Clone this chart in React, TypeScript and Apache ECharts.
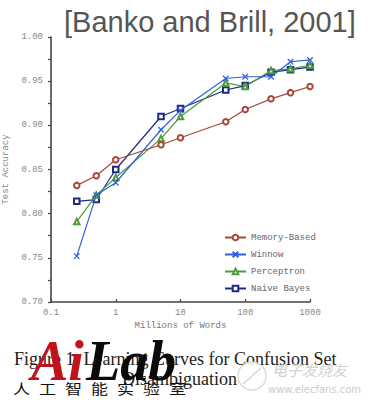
import React, { useEffect, useRef } from "react";
import * as echarts from "echarts";

// Training set size (millions of words)
const words = [0.25, 0.5, 1, 5, 10, 50, 100, 250, 500, 1000];

// Test accuracy per learner
const memoryBased = [0.832, 0.843, 0.861, 0.878, 0.886, 0.904, 0.918, 0.93, 0.937, 0.944];
const winnow = [0.752, 0.821, 0.835, 0.895, 0.917, 0.953, 0.955, 0.955, 0.972, 0.974];
const perceptron = [0.791, 0.821, 0.841, 0.885, 0.91, 0.948, 0.944, 0.962, 0.964, 0.968];
const naiveBayes = [0.814, 0.816, 0.85, 0.91, 0.919, 0.94, 0.945, 0.96, 0.963, 0.966];

const seriesNames = ["Memory-Based", "Winnow", "Perceptron", "Naive Bayes"];
const seriesColors = ["#a8463c", "#2f5fdc", "#4e9a3c", "#1c2a86"];

const titleText = "[Banko and Brill, 2001]";
const captionLine1 = "Figure 1. Learning Curves for Confusion Set";
const captionLine2 = "Disambiguation";
const labChars = ["人", "工", "智", "能", "实", "验", "室"];

const MONO = "'Liberation Mono', 'DejaVu Sans Mono', monospace";
const SERIF = "'Liberation Serif', 'Times New Roman', serif";
const crossSymbol = "path://M0,0L10,10M10,0L0,10";

function pairs(values: number[]) {
  return words.map((w, i) => [w, values[i]]);
}

export default function App() {
  const ref = useRef<HTMLDivElement>(null);

  useEffect(() => {
    if (!ref.current) return;
    const chart = echarts.init(ref.current, undefined, { renderer: "svg" });

    const datasets = [memoryBased, winnow, perceptron, naiveBayes];
    const symbols = ["emptyCircle", crossSymbol, "emptyTriangle", "emptyRect"];

    const series = datasets.map((vals, i) => ({
      name: seriesNames[i],
      type: "line",
      data: pairs(vals),
      symbol: symbols[i],
      symbolSize: 5.5,
      showAllSymbol: true,
      lineStyle: { color: seriesColors[i], width: 1.2 },
      itemStyle:
        i === 1
          ? { color: "rgba(0,0,0,0)", borderColor: seriesColors[i], borderWidth: 1.2 }
          : { color: seriesColors[i], borderColor: seriesColors[i], borderWidth: 1.1 },
      z: 10 - i,
    }));

    const labGraphics = labChars.map((ch, i) => ({
      type: "text",
      x: 13 + i * 26,
      y: 388,
      scaleY: 0.8,
      z: 30,
      style: {
        text: ch,
        fill: "#111",
        align: "left",
        verticalAlign: "middle",
        font: "17px 'Noto Sans CJK SC', sans-serif",
      },
    }));

    chart.setOption({
      animation: false,
      backgroundColor: "#ffffff",
      grid: {
        left: 51,
        right: 66,
        top: 37,
        bottom: 102,
        containLabel: false,
        outerBoundsMode: "none",
      },
      legend: {
        orient: "vertical",
        left: 219,
        top: 228,
        itemWidth: 21,
        itemHeight: 7,
        itemGap: 8,
        data: seriesNames,
        textStyle: { fontFamily: MONO, fontSize: 9, color: "#666" },
      },
      xAxis: {
        type: "log",
        logBase: 10,
        min: 0.1,
        max: 1000,
        name: "Millions of Words",
        nameLocation: "middle",
        nameGap: 18,
        nameTextStyle: { fontFamily: MONO, fontSize: 9, color: "#777" },
        axisLine: { lineStyle: { color: "#444", width: 1.6 } },
        axisTick: { show: true, inside: true, length: 3, lineStyle: { color: "#444", width: 1.2 } },
        minorTick: { show: false },
        splitLine: { show: false },
        axisLabel: {
          fontFamily: MONO,
          fontSize: 9,
          color: "#888",
          margin: 6,
          formatter: (v: number) => String(v),
        },
      },
      yAxis: {
        type: "value",
        min: 0.7,
        max: 1.0,
        interval: 0.025,
        name: "Test Accuracy",
        nameLocation: "middle",
        nameGap: 33,
        nameTextStyle: { fontFamily: MONO, fontSize: 9, color: "#888" },
        axisLine: { show: true, lineStyle: { color: "#444", width: 1.6 } },
        axisTick: { show: true, inside: false, length: 3, lineStyle: { color: "#444", width: 1.2 } },
        splitLine: { show: false },
        axisLabel: {
          fontFamily: MONO,
          fontSize: 9,
          color: "#888",
          margin: 8,
          formatter: (v: number) => {
            const k = Math.round(v * 1000);
            return k % 50 === 0 ? (k / 1000).toFixed(2) : "";
          },
        },
      },
      series,
      graphic: [
        {
          type: "text",
          left: 64,
          top: 7,
          style: {
            text: titleText,
            fill: "#555",
            font: "29px 'Liberation Sans', Arial, sans-serif",
          },
        },
        {
          type: "text",
          left: 14,
          top: 350,
          z: 5,
          style: { text: captionLine1, fill: "#222", font: "18px " + SERIF },
        },
        {
          type: "text",
          left: 122,
          top: 370,
          z: 5,
          style: { text: captionLine2, fill: "#222", font: "18px " + SERIF },
        },
        // elecfans watermark
        {
          type: "circle",
          shape: { cx: 252, cy: 376, r: 14 },
          z: 6,
          style: { fill: "rgba(255,255,255,0.85)", stroke: "#d6d6d6", lineWidth: 1.2 },
        },
        {
          type: "polyline",
          shape: { points: [[243, 384], [252, 376], [261, 368]] },
          z: 7,
          style: { stroke: "#d0d0d0", lineWidth: 1.2, fill: null },
        },
        {
          type: "text",
          left: 272,
          top: 362,
          z: 6,
          style: {
            text: "电子发烧友",
            fill: "#d2d2d2",
            font: "italic 15px 'Noto Sans CJK SC', sans-serif",
          },
        },
        {
          type: "text",
          left: 268,
          top: 384,
          z: 6,
          style: {
            text: "www.elecfans.com",
            fill: "#cccccc",
            font: "10px 'DejaVu Sans', sans-serif",
          },
        },
        // AiLab logo
        {
          type: "text",
          left: 31,
          top: 333,
          z: 30,
          style: {
            text: "Ai",
            fill: "#c0141c",
            lineHeight: 44,
            font: "italic bold 56px " + SERIF,
          },
        },
        {
          type: "text",
          left: 86,
          top: 333,
          z: 30,
          style: {
            text: "Lab",
            fill: "#0a0a0a",
            lineHeight: 44,
            font: "italic bold 56px " + SERIF,
          },
        },
        ...labGraphics,
      ],
    });

    return () => chart.dispose();
  }, []);

  return (
    <div
      ref={ref}
      style={{ position: "absolute", left: 0, top: 0, width: 376, height: 404 }}
    />
  );
}
